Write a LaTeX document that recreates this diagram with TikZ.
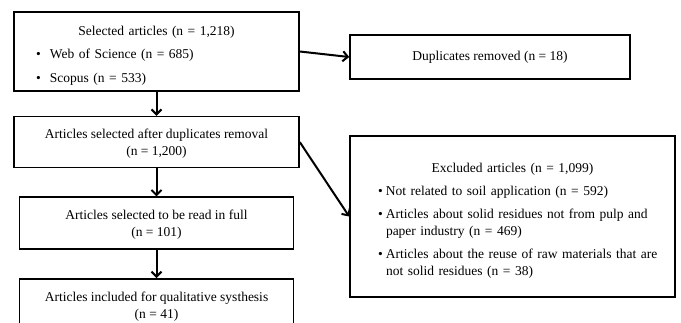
\documentclass[tikz,border=0pt]{standalone}
\usepackage{fontspec}
\setmainfont{Liberation Serif}
\usetikzlibrary{arrows.meta, positioning}

% bullet in a box of given width
\newcommand{\bul}[1]{\makebox[#1][l]{\textbullet}}

\begin{document}
\begin{tikzpicture}[
                x=1pt, y=-1pt,
                font=\fontsize{13.5pt}{17pt}\selectfont,
                box/.style={draw, line width=1.6pt, inner xsep=8pt, inner ysep=0pt, align=center},
                listbox/.style={draw, line width=1.6pt, inner xsep=8pt, inner ysep=0pt, align=left},
                flow/.style={line width=2pt, -{Straight Barb[length=5pt, width=10pt, line width=2pt]}},
            ]

                \useasboundingbox (0,0) rectangle (681,322);

                % Main column
                \node[listbox, minimum width=285pt, minimum height=79pt, text width=269pt] (sel) at (156.5,51.5)
                    {\makebox[269pt]{\rule{0pt}{18pt}Selected articles (n = 1,218)}\\[6pt]
                     \hspace*{14pt}\bul{14pt}Web of Science (n = 685)\\[7pt]
                     \hspace*{14pt}\bul{14pt}Scopus (n = 533)};
                \node[box, minimum width=285pt, minimum height=51pt, below=24pt of sel] (dedup)
                    {\rule{0pt}{13pt}Articles selected after duplicates removal\\(n = 1,200)};
                \node[box, minimum width=274pt, minimum height=52pt, below=28pt of dedup] (full)
                    {\rule{0pt}{13pt}Articles selected to be read in full\\(n = 101)};
                \node[box, minimum width=274pt, minimum height=52pt, below=28pt of full] (incl)
                    {\rule{0pt}{13pt}Articles included for qualitative systhesis\\(n = 41)};

                % Side boxes
                \node[box, minimum width=280pt, minimum height=44pt] (dup) at (490,57)
                    {Duplicates removed (n = 18)};
                \node[listbox, minimum width=325pt, minimum height=161pt, text width=309pt] (excl) at (512.5,216.5)
                    {\makebox[309pt]{\rule{0pt}{18pt}Excluded articles (n = 1,099)}\\[6pt]
                     \hspace*{20pt}\bul{8pt}Not related to soil application (n = 592)\\[6pt]
                     \hspace*{20pt}\bul{8pt}Articles about solid residues not from pulp and\\
                     \hspace*{28pt}paper industry (n = 469)\\[6pt]
                     \hspace*{20pt}\bul{8pt}Articles about the reuse of raw materials that are\\
                     \hspace*{28pt}not solid residues (n = 38)};

                % Arrows
                \draw[flow] (sel) -- (dedup);
                \draw[flow] (dedup) -- (full);
                \draw[flow] (full) -- (incl);
                \draw[flow] (sel.east) -- (dup.west);
                \draw[flow] (dedup.east) -- (excl.west);
            \end{tikzpicture}
\end{document}
